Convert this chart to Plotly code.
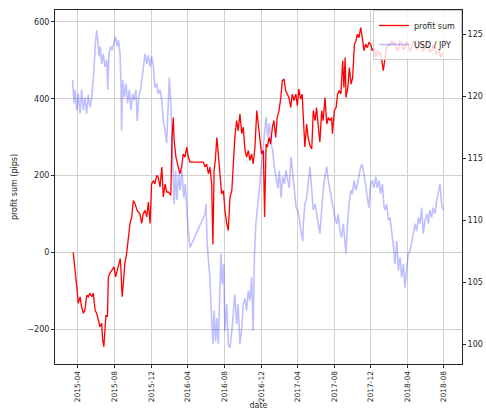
import plotly.graph_objects as go

# Cumulative profit (pips) of the strategy
profit_dates = [
    "2015-03-16", "2015-03-22", "2015-03-28", "2015-04-02", "2015-04-08", "2015-04-13",
    "2015-04-19", "2015-04-24", "2015-04-30", "2015-05-05", "2015-05-11", "2015-05-17",
    "2015-05-22", "2015-05-28", "2015-06-02", "2015-06-08", "2015-06-13", "2015-06-19",
    "2015-06-22", "2015-06-26", "2015-06-30", "2015-07-03", "2015-07-08", "2015-07-11",
    "2015-07-16", "2015-07-25", "2015-07-30", "2015-08-04", "2015-08-10", "2015-08-15",
    "2015-08-20", "2015-08-23", "2015-08-26", "2015-08-30", "2015-09-04", "2015-09-10",
    "2015-09-15", "2015-09-21", "2015-09-27", "2015-10-02", "2015-10-08", "2015-10-15",
    "2015-10-24", "2015-10-30", "2015-11-04", "2015-11-10", "2015-11-16", "2015-11-21",
    "2015-11-27", "2015-12-02", "2015-12-08", "2015-12-13", "2015-12-19", "2015-12-24",
    "2015-12-30", "2016-01-05", "2016-01-10", "2016-01-16", "2016-01-21", "2016-01-27",
    "2016-02-04", "2016-02-08", "2016-02-12", "2016-02-15", "2016-02-21", "2016-02-29",
    "2016-03-05", "2016-03-11", "2016-03-16", "2016-03-22", "2016-03-28", "2016-04-02",
    "2016-04-08", "2016-05-22", "2016-05-28", "2016-06-02", "2016-06-08", "2016-06-13",
    "2016-06-19", "2016-06-23", "2016-06-27", "2016-07-01", "2016-07-06", "2016-07-11",
    "2016-07-17", "2016-07-22", "2016-07-28", "2016-08-02", "2016-08-08", "2016-08-13",
    "2016-08-19", "2016-08-25", "2016-08-30", "2016-09-04", "2016-09-10", "2016-09-15",
    "2016-09-21", "2016-09-27", "2016-10-02", "2016-10-08", "2016-10-13", "2016-10-19",
    "2016-10-24", "2016-10-30", "2016-11-04", "2016-11-10", "2016-11-16", "2016-11-21",
    "2016-11-27", "2016-12-02", "2016-12-08", "2016-12-12", "2016-12-17", "2016-12-21",
    "2016-12-27", "2017-01-01", "2017-01-07", "2017-01-12", "2017-01-18", "2017-01-23",
    "2017-01-29", "2017-02-04", "2017-02-09", "2017-02-15", "2017-02-20", "2017-02-26",
    "2017-03-03", "2017-03-09", "2017-03-14", "2017-03-20", "2017-03-26", "2017-03-31",
    "2017-04-05", "2017-04-11", "2017-04-16", "2017-04-25", "2017-05-01", "2017-05-06",
    "2017-05-12", "2017-05-18", "2017-05-23", "2017-05-29", "2017-06-03", "2017-06-09",
    "2017-06-14", "2017-06-20", "2017-06-25", "2017-07-01", "2017-07-07", "2017-07-12",
    "2017-07-18", "2017-07-23", "2017-07-26", "2017-08-01", "2017-08-07", "2017-08-12",
    "2017-08-18", "2017-08-23", "2017-08-29", "2017-09-02", "2017-09-06", "2017-09-09",
    "2017-09-15", "2017-09-20", "2017-09-26", "2017-10-01", "2017-10-07", "2017-10-12",
    "2017-10-17", "2017-10-22", "2017-10-28", "2017-11-02", "2017-11-08", "2017-11-13",
    "2017-11-19", "2017-11-24", "2017-11-30", "2017-12-05", "2017-12-11", "2017-12-17",
    "2017-12-22", "2017-12-28", "2018-01-02", "2018-01-08", "2018-01-11", "2018-01-17",
    "2018-01-22", "2018-01-28", "2018-02-02", "2018-02-08", "2018-02-13", "2018-02-19",
    "2018-02-24", "2018-03-02", "2018-03-07", "2018-03-13", "2018-03-18", "2018-03-24",
    "2018-03-29", "2018-04-04", "2018-04-09", "2018-04-15", "2018-04-21", "2018-04-27",
    "2018-05-02", "2018-05-08", "2018-05-13", "2018-05-19", "2018-05-24", "2018-05-30",
    "2018-06-04", "2018-06-10", "2018-06-15", "2018-06-21", "2018-06-26", "2018-07-02",
    "2018-07-06", "2018-07-10", "2018-07-16", "2018-07-20", "2018-07-24", "2018-07-30",
]
profit_sum = [
    0, -55, -90, -133, -116, -142,
    -159, -151, -112, -116, -107, -116,
    -107, -151, -159, -177, -194, -185,
    -228, -246, -203, -164, -168, -64,
    -55, -42, -38, -64, -47, -29,
    -16, -64, -116, -81, -29, -3,
    40, 75, 92, 135, 126, 109,
    100, 75, 100, 109, 92, 131,
    75, 178, 187, 178, 200, 196,
    170, 222, 144, 178, 157, 157,
    148, 299, 351, 291, 248, 222,
    204, 222, 256, 248, 274, 248,
    235, 235, 222, 230, 204, 222,
    178, 20, 213, 239, 299, 256,
    200, 152, 161, 109, 75, 57,
    144, 161, 230, 299, 343, 317,
    360, 309, 326, 265, 248, 265,
    239, 256, 230, 274, 369, 334,
    282, 256, 265, 92, 282, 274,
    299, 282, 326, 343, 299, 351,
    369, 403, 447, 451, 421, 412,
    403, 377, 412, 395, 412, 382,
    425, 399, 412, 274, 334, 299,
    278, 269, 369, 343, 377, 326,
    287, 369, 343, 403, 334, 351,
    343, 351, 309, 369, 377, 412,
    421, 412, 499, 429, 507, 403,
    429, 481, 438, 455, 542, 551,
    568, 559, 585, 559, 525, 542,
    533, 546, 542, 525, 533, 507,
    525, 516, 520, 490, 473, 507,
    533, 542, 538, 551, 542, 546,
    530, 525, 549, 546, 528, 533,
    548, 542, 525, 529, 551, 542,
    527, 533, 548, 542, 524, 533,
    550, 542, 522, 525, 540, 533,
    516, 520, 529, 508, 512, 520,
]

# USD / JPY exchange rate
fx_dates = [
    "2015-03-14", "2015-03-19", "2015-03-22", "2015-03-28", "2015-04-02", "2015-04-08",
    "2015-04-13", "2015-04-19", "2015-04-24", "2015-04-30", "2015-05-05", "2015-05-11",
    "2015-05-17", "2015-05-20", "2015-05-24", "2015-05-29", "2015-06-02", "2015-06-06",
    "2015-06-10", "2015-06-14", "2015-06-19", "2015-06-24", "2015-06-30", "2015-07-06",
    "2015-07-09", "2015-07-13", "2015-07-19", "2015-07-24", "2015-07-30", "2015-08-04",
    "2015-08-10", "2015-08-14", "2015-08-19", "2015-08-22", "2015-08-24", "2015-08-28",
    "2015-09-02", "2015-09-08", "2015-09-13", "2015-09-19", "2015-09-24", "2015-09-30",
    "2015-10-05", "2015-10-11", "2015-10-15", "2015-10-20", "2015-10-27", "2015-11-02",
    "2015-11-07", "2015-11-10", "2015-11-16", "2015-11-21", "2015-11-27", "2015-12-02",
    "2015-12-08", "2015-12-13", "2015-12-19", "2015-12-24", "2015-12-30", "2016-01-05",
    "2016-01-10", "2016-01-16", "2016-01-21", "2016-01-27", "2016-01-30", "2016-02-04",
    "2016-02-08", "2016-02-12", "2016-02-15", "2016-02-20", "2016-02-24", "2016-03-01",
    "2016-03-06", "2016-03-12", "2016-03-18", "2016-03-23", "2016-03-28", "2016-04-02",
    "2016-04-08", "2016-05-28", "2016-05-31", "2016-06-04", "2016-06-09", "2016-06-13",
    "2016-06-16", "2016-06-20", "2016-06-23", "2016-06-27", "2016-07-02", "2016-07-06",
    "2016-07-11", "2016-07-15", "2016-07-20", "2016-07-24", "2016-07-29", "2016-08-02",
    "2016-08-08", "2016-08-13", "2016-08-19", "2016-08-25", "2016-08-30", "2016-09-04",
    "2016-09-10", "2016-09-15", "2016-09-21", "2016-09-27", "2016-10-02", "2016-10-08",
    "2016-10-13", "2016-10-19", "2016-10-24", "2016-10-30", "2016-11-04", "2016-11-08",
    "2016-11-13", "2016-11-19", "2016-11-24", "2016-11-30", "2016-12-06", "2016-12-11",
    "2016-12-17", "2016-12-23", "2016-12-28", "2017-01-02", "2017-01-08", "2017-01-13",
    "2017-01-19", "2017-01-25", "2017-01-30", "2017-02-05", "2017-02-10", "2017-02-16",
    "2017-02-21", "2017-02-27", "2017-03-04", "2017-03-10", "2017-03-16", "2017-03-21",
    "2017-03-27", "2017-04-01", "2017-04-06", "2017-04-12", "2017-04-18", "2017-04-20",
    "2017-04-25", "2017-05-01", "2017-05-06", "2017-05-12", "2017-05-18", "2017-05-23",
    "2017-05-29", "2017-06-03", "2017-06-09", "2017-06-14", "2017-06-20", "2017-06-25",
    "2017-07-01", "2017-07-07", "2017-07-12", "2017-07-18", "2017-07-23", "2017-07-29",
    "2017-08-03", "2017-08-09", "2017-08-14", "2017-08-20", "2017-08-25", "2017-08-31",
    "2017-09-06", "2017-09-09", "2017-09-13", "2017-09-19", "2017-09-25", "2017-09-30",
    "2017-10-06", "2017-10-11", "2017-10-17", "2017-10-22", "2017-10-28", "2017-11-02",
    "2017-11-08", "2017-11-13", "2017-11-19", "2017-11-24", "2017-11-30", "2017-12-05",
    "2017-12-11", "2017-12-17", "2017-12-22", "2017-12-28", "2018-01-02", "2018-01-08",
    "2018-01-13", "2018-01-17", "2018-01-22", "2018-01-28", "2018-02-02", "2018-02-08",
    "2018-02-13", "2018-02-19", "2018-02-25", "2018-03-02", "2018-03-08", "2018-03-13",
    "2018-03-19", "2018-03-24", "2018-03-30", "2018-04-04", "2018-04-10", "2018-04-15",
    "2018-04-21", "2018-04-27", "2018-05-02", "2018-05-08", "2018-05-13", "2018-05-19",
    "2018-05-24", "2018-05-30", "2018-06-05", "2018-06-10", "2018-06-15", "2018-06-21",
    "2018-06-26", "2018-07-02", "2018-07-08", "2018-07-13", "2018-07-19", "2018-07-24",
    "2018-07-30",
]
usd_jpy = [
    121.3, 119.4, 120.5, 118.85, 120.2, 118.6,
    120.5, 118.85, 119.9, 118.6, 120.1, 119.1,
    119.9, 121.3, 122.1, 124.25, 125.3, 124.5,
    123.2, 124.0, 122.6, 123.4, 122.35, 122.9,
    120.5, 123.4, 124.0, 123.7, 124.25, 124.8,
    124.0, 124.5, 123.4, 121.0, 117.2, 121.3,
    119.9, 121.0, 119.4, 120.5, 118.85, 120.2,
    119.66, 120.5, 118.0, 119.9, 120.6, 121.8,
    123.2, 123.4, 122.6, 123.3, 122.35, 123.2,
    122.35, 120.7, 121.0, 120.2, 120.5, 119.66,
    118.0, 117.2, 116.2, 119.4, 121.5, 119.4,
    115.6, 112.9, 111.3, 114.0, 111.6, 113.7,
    112.4, 114.0, 111.8, 112.9, 110.8, 109.1,
    107.8, 110.5, 111.3, 108.1, 106.45, 105.4,
    103.5, 101.3, 100.0, 102.7, 100.2, 102.1,
    100.0, 103.2, 107.3, 104.8, 106.45, 101.05,
    103.2, 100.0, 99.7, 101.05, 102.7, 104.0,
    101.6, 103.2, 100.0, 101.3, 103.2, 103.7,
    102.7, 104.3, 103.5, 105.4, 101.05, 107.0,
    109.7, 111.0, 112.4, 114.0, 115.6, 117.2,
    118.3, 116.7, 117.8, 116.2, 115.6, 114.3,
    113.5, 112.6, 114.0, 111.8, 113.5, 112.9,
    114.0, 113.2, 112.6, 115.1, 113.7, 112.1,
    111.0, 110.8, 110.2, 109.1, 108.3, 109.7,
    111.3, 111.8, 113.2, 114.3, 112.4, 110.8,
    111.3, 110.5, 109.7, 108.9, 110.8, 112.4,
    113.5, 114.3, 113.2, 112.4, 111.6, 110.8,
    110.2, 109.7, 110.5, 109.1, 108.6, 109.7,
    108.3, 107.3, 109.4, 111.3, 112.4, 112.1,
    113.2, 112.4, 112.9, 113.7, 114.3, 114.5,
    113.7, 112.9, 111.8, 111.0, 112.9, 113.2,
    112.6, 113.5, 112.6, 113.2, 112.1, 112.9,
    111.2, 110.8, 111.3, 110.0, 110.2, 109.1,
    108.1, 106.45, 108.3, 105.9, 107.0, 105.4,
    106.45, 104.55, 106.45, 107.3, 107.5, 108.1,
    109.1, 109.7, 109.1, 110.2, 109.7, 111.0,
    108.9, 110.0, 110.5, 109.7, 110.8, 110.2,
    111.0, 110.5, 111.6, 112.1, 112.9, 111.3,
    110.8,
]

# Axis tick labels
date_ticks = ["2015-04", "2015-08", "2015-12", "2016-04", "2016-08", "2016-12",
              "2017-04", "2017-08", "2017-12", "2018-04", "2018-08"]
profit_ticks = [-200, 0, 200, 400, 600]
fx_ticks = [100, 105, 110, 115, 120, 125]

FONT = "DejaVu Sans"
GRID = "#d0d0d0"
INK = "#262626"

fig = go.Figure()
fig.add_trace(go.Scatter(
    x=profit_dates, y=profit_sum, mode="lines", name="profit sum",
    line=dict(color="#ff0000", width=1.3), yaxis="y",
))
fig.add_trace(go.Scatter(
    x=fx_dates, y=usd_jpy, mode="lines", name="USD / JPY",
    line=dict(color="rgba(0,0,255,0.25)", width=1.6), yaxis="y2",
))

fig.update_layout(
    width=486, height=410,
    margin=dict(l=55, r=24, t=10, b=46),
    paper_bgcolor="white", plot_bgcolor="white",
    font=dict(family=FONT, size=8, color=INK),
    showlegend=True,
    legend=dict(
        x=1.0, y=1.0, xanchor="right", yanchor="top",
        bgcolor="rgba(255,255,255,0.8)", bordercolor="#cccccc", borderwidth=1,
        font=dict(family=FONT, size=8, color=INK),
        itemwidth=30, tracegroupgap=0,
    ),
    xaxis=dict(
        type="date",
        range=["2015-01-14 12:00", "2018-09-30"],
        tickvals=[d + "-01" for d in date_ticks], ticktext=date_ticks,
        tickangle=-90, ticks="outside", ticklen=3, tickcolor=INK,
        tickfont=dict(family=FONT, size=7.5, color=INK),
        showgrid=True, gridcolor=GRID, gridwidth=1,
        showline=True, linecolor=INK, linewidth=1, mirror=True,
        zeroline=False,
        title=dict(text="date", font=dict(family=FONT, size=8), standoff=1),
        automargin=False,
    ),
    yaxis=dict(
        range=[-291, 631], tickvals=profit_ticks,
        ticks="outside", ticklen=3, tickcolor=INK,
        showgrid=True, gridcolor=GRID, gridwidth=1,
        showline=True, linecolor=INK, linewidth=1,
        zeroline=False,
        title=dict(text="profit sum (pips)", font=dict(family=FONT, size=8), standoff=8),
        automargin=False,
    ),
    yaxis2=dict(
        range=[98.39, 126.94], tickvals=fx_ticks,
        overlaying="y", side="right",
        ticks="outside", ticklen=3, tickcolor=INK,
        showgrid=False, showline=True, linecolor=INK, linewidth=1,
        zeroline=False, automargin=False,
    ),
)

fig.write_html("out.html")
